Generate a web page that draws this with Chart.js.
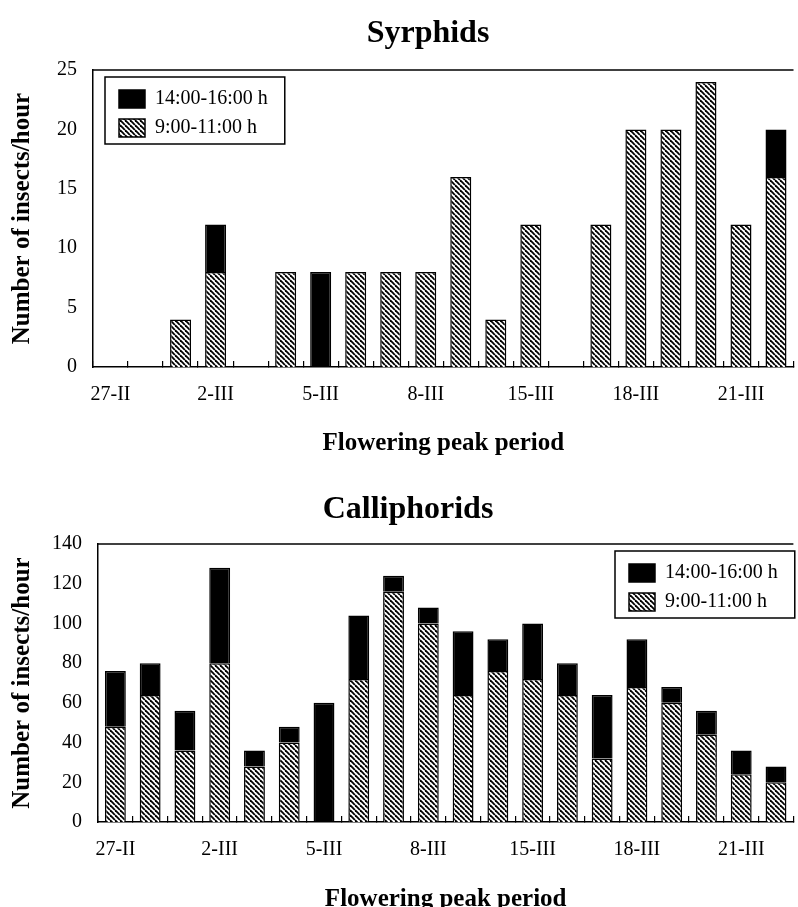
<!DOCTYPE html>
<html>
<head>
<meta charset="utf-8">
<script src="https://cdn.jsdelivr.net/npm/chart.js@4.4.1/dist/chart.umd.min.js"></script>
<style>
  html, body { margin: 0; padding: 0; background: #fff; overflow: hidden; }
  .panel { position: absolute; left: 0; width: 798px; height: 460px; }
  #syrphidPanel { top: 0; }
  #calliPanel { top: 460px; }
</style>
</head>
<body>
<div class="panel" id="syrphidPanel"><canvas id="syrphidChart" width="798" height="460"></canvas></div>
<div class="panel" id="calliPanel"><canvas id="calliChart" width="798" height="460"></canvas></div>
<script>
// categories (only every third day is labelled on the axis)
const days = ['27-II', '', '', '2-III', '', '', '5-III', '', '', '8-III', '', '', '15-III', '', '', '18-III', '', '', '21-III', ''];
const seriesNames = ['9:00-11:00 h', '14:00-16:00 h'];

// Syrphids, insects/hour
const syrphidMorning   = [0, 0, 4, 8, 0, 8, 0, 8, 8, 8, 16, 4, 12, 0, 12, 20, 20, 24, 12, 16];
const syrphidAfternoon = [0, 0, 0, 4, 0, 0, 8, 0, 0, 0, 0, 0, 0, 0, 0, 0, 0, 0, 0, 4];
const syrphidAxis = [0, 25, 5];   // min, max, step

// Calliphorids, insects/hour
const calliMorning   = [48, 64, 36, 80, 28, 40, 0, 72, 116, 100, 64, 76, 72, 64, 32, 68, 60, 44, 24, 20];
const calliAfternoon = [28, 16, 20, 48, 8, 8, 60, 32, 8, 8, 32, 16, 28, 16, 32, 24, 8, 12, 12, 8];
const calliAxis = [0, 140, 20];

const serif = '"Liberation Serif", "Times New Roman", serif';
Chart.defaults.font.family = serif;
Chart.defaults.color = '#000';

function hatchFill() {
    const c = document.createElement('canvas');
    c.width = 5; c.height = 5;
    const g = c.getContext('2d');
    g.fillStyle = '#fff';
    g.fillRect(0, 0, 5, 5);
    g.strokeStyle = '#000';
    g.lineWidth = 1.8;
    for (const k of [-5, 0, 5]) {
        g.beginPath();
        g.moveTo(k, 0);
        g.lineTo(k + 5, 5);
        g.stroke();
    }
    return g.createPattern(c, 'repeat');
}

// heading, top frame line, and the boxed legend placed inside the plot
const panelExtras = {
    id: 'panelExtras',
    afterLayout(chart, args, opts) {
        const lg = chart.legend;
        const w = lg.width, h = lg.height;
        lg.left = opts.legendX;
        lg.top = opts.legendY;
        lg.right = lg.left + w;
        lg.bottom = lg.top + h;
    },
    afterDraw(chart, args, opts) {
        const ctx = chart.ctx;
        const a = chart.chartArea;
        ctx.save();
        ctx.strokeStyle = '#000';
        ctx.lineWidth = 1.5;
        ctx.beginPath();
        ctx.moveTo(a.left, a.top);
        ctx.lineTo(a.right, a.top);
        ctx.stroke();

        const hb = chart.legend.legendHitBoxes;
        if (hb && hb.length) {
            const left = Math.min(...hb.map(b => b.left)) - 14;
            const right = Math.max(...hb.map(b => b.left + b.width)) + 17;
            const top = Math.min(...hb.map(b => b.top)) - 12;
            const bottom = Math.max(...hb.map(b => b.top + b.height)) + 6;
            ctx.strokeRect(left, top, right - left, bottom - top);
        }

        ctx.fillStyle = '#000';
        ctx.font = 'bold 32px ' + serif;
        ctx.textAlign = 'center';
        ctx.textBaseline = 'alphabetic';
        ctx.fillText(opts.heading, opts.headingX, opts.headingY);
        ctx.restore();
    }
};

function makeChart(id, morning, afternoon, axis, box) {
    const ctx = document.getElementById(id).getContext('2d');
    return new Chart(ctx, {
        type: 'bar',
        data: {
            labels: days,
            datasets: [
                {
                    label: seriesNames[0],
                    data: morning,
                    backgroundColor: hatchFill(),
                    borderColor: '#000',
                    borderWidth: 1.5,
                    barPercentage: 0.6,
                    categoryPercentage: 1
                },
                {
                    label: seriesNames[1],
                    data: afternoon,
                    backgroundColor: '#000',
                    borderColor: '#000',
                    borderWidth: 1.5,
                    barPercentage: 0.6,
                    categoryPercentage: 1
                }
            ]
        },
        plugins: [panelExtras],
        options: {
            responsive: false,
            animation: false,
            layout: { padding: { top: box.top, left: 0, right: 0, bottom: 0 } },
            plugins: {
                legend: {
                    position: 'chartArea',
                    align: 'start',
                    reverse: true,
                    labels: {
                        font: { size: 20, family: serif },
                        color: '#000',
                        boxWidth: 26,
                        boxHeight: 18,
                        padding: 9
                    }
                },
                title: { display: false },
                tooltip: { enabled: false },
                panelExtras: {
                    heading: box.heading,
                    headingX: box.headingX,
                    headingY: box.headingY,
                    legendX: box.legendX,
                    legendY: box.legendY
                }
            },
            scales: {
                x: {
                    stacked: true,
                    offset: true,
                    grid: {
                        display: true,
                        offset: true,
                        drawOnChartArea: false,
                        drawTicks: true,
                        tickLength: -6,
                        color: '#000',
                        lineWidth: 1.2
                    },
                    border: { color: '#000', width: 1.5 },
                    ticks: {
                        autoSkip: false,
                        maxRotation: 0,
                        padding: 22,
                        color: '#000',
                        font: { size: 20, family: serif }
                    },
                    title: {
                        display: true,
                        text: 'Flowering peak period',
                        color: '#000',
                        font: { size: 25, weight: 'bold', family: serif, lineHeight: 1 },
                        padding: { top: 0, bottom: box.xTitlePad }
                    },
                    afterFit(s) { s.height = box.xHeight; }
                },
                y: {
                    stacked: true,
                    min: axis[0],
                    max: axis[1],
                    ticks: {
                        stepSize: axis[2],
                        padding: 16,
                        color: '#000',
                        font: { size: 20, family: serif }
                    },
                    grid: { display: false, drawTicks: false },
                    border: { color: '#000', width: 1.5 },
                    title: {
                        display: true,
                        text: 'Number of insects/hour',
                        color: '#000',
                        font: { size: 25, weight: 'bold', family: serif, lineHeight: 1 },
                        padding: { top: 10, bottom: 0 }
                    },
                    afterFit(s) { s.width = box.yWidth; }
                }
            }
        }
    });
}

makeChart('syrphidChart', syrphidMorning, syrphidAfternoon, syrphidAxis, {
    top: 70, xHeight: 93, yWidth: 93, xTitlePad: 4,
    heading: 'Syrphids', headingX: 428, headingY: 42,
    legendX: 110, legendY: 80
});

makeChart('calliChart', calliMorning, calliAfternoon, calliAxis, {
    top: 84, xHeight: 98, yWidth: 98, xTitlePad: 8,
    heading: 'Calliphorids', headingX: 408, headingY: 58,
    legendX: 620, legendY: 94
});
</script>
</body>
</html>
